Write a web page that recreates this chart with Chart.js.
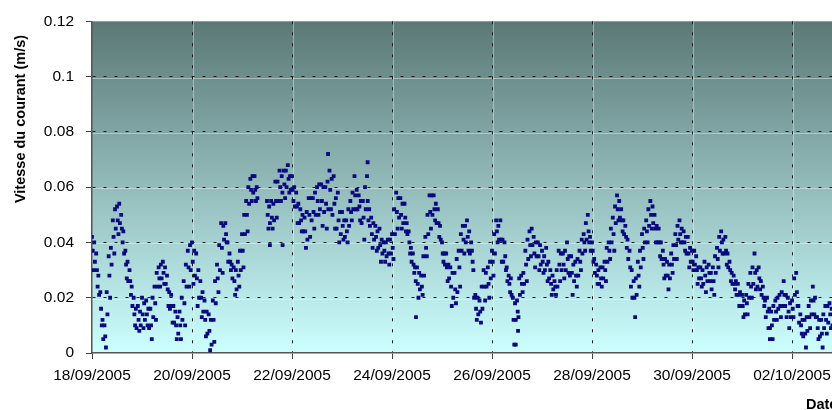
<!DOCTYPE html>
<html lang="fr">
<head>
<meta charset="utf-8">
<title>Vitesse du courant</title>
<script src="https://cdn.jsdelivr.net/npm/chart.js@4.4.1/dist/chart.umd.min.js"></script>
<style>
  html, body { margin: 0; padding: 0; background: #fff; overflow: hidden; }
  #cadre { width: 860px; height: 410px; }
</style>
</head>
<body>
<div id="cadre"><canvas id="graphe" width="860" height="410"></canvas></div>
<script>
// relevés : un pas = 2 h depuis le 18/09/2005 00:00
// A, B, C : lectures haute, moyenne, basse du nuage au début du pas
// D, E : lectures haute et basse une heure plus tard
const pasHeures = 2;
const decalages = { A: 0, B: 0.35, C: 0.7, D: 1.05, E: 1.4 };

const lectureA = [
  .042,.036,.022,.010,.035,.048,.053,.050,.037,.030,
  .020,.017,.020,.019,.016,.024,.031,.033,.028,.021,
  .015,.015,.026,.037,.040,.036,.026,.019,.014,.019,
  .032,.047,.047,.036,.031,.033,.043,.055,.063,.064,
  null,null,.055,.055,.062,.066,.066,.068,.064,.058,
  .052,.049,.056,.056,.060,.061,.060,.066,.064,.058,
  .051,.048,.055,.064,.057,.055,.064,.049,.046,.045,
  .040,.041,.043,.058,.056,.054,.044,.036,.031,.028,
  .042,.057,.057,.052,.040,.036,.031,.029,.037,.046,
  .048,.040,.021,.019,.030,.031,.037,.048,.048,.040,
  .028,.020,.019,.028,.037,.044,.042,.040,.037,.038,
  .030,.026,.037,.036,.040,.035,.033,.037,.043,.050,
  .040,.032,.031,.033,.040,.049,.057,.052,.046,.037,
  .026,.033,.043,.048,.055,.050,.045,.037,.033,.036,
  .043,.048,.044,.042,.037,.035,.031,.033,.032,.031,
  .038,.044,.042,.033,.028,.025,.021,.021,.029,.036,
  .031,.024,.020,.015,.019,.021,.026,.020,.019,.029,
  .014,.012,.017,.024,.013,.012,.017,.018
];
const lectureB = [
  .037,.030,.016,.006,.028,.042,.048,.045,.032,.026,
  .014,.012,.014,.014,.010,.018,.027,.029,.023,.017,
  .010,.010,.018,.031,.033,.027,.020,.012,.008,.012,
  .027,.038,.043,.033,.026,.028,.037,.050,.059,.059,
  null,null,.050,.049,.055,.060,.061,.063,.059,.053,
  .048,.044,.050,.051,.055,.055,.054,.059,.054,.048,
  .046,.044,.051,.057,.053,.049,.055,.043,.042,.039,
  .037,.036,.038,.051,.050,.049,.040,.032,.025,.024,
  .038,.051,.052,.047,.036,.031,.024,.023,.031,.041,
  .042,.037,.016,.015,.024,.025,.033,.044,.041,.035,
  .025,.012,.015,.025,.032,.039,.036,.035,.033,.032,
  .025,.024,.032,.032,.034,.029,.028,.033,.040,.044,
  .037,.028,.027,.030,.037,.043,.052,.048,.042,.031,
  .020,.028,.038,.044,.050,.045,.040,.032,.028,.032,
  .039,.043,.040,.036,.033,.030,.027,.028,.029,.026,
  .034,.040,.037,.030,.025,.021,.017,.018,.024,.029,
  .027,.020,.015,.010,.015,.017,.021,.015,.016,.022,
  .010,.007,.013,.019,.009,.007,.012,.014
];
const lectureC = [
  .030,.024,.010,.002,.020,.036,.043,.040,.027,.021,
  .010,.008,.009,.010,.005,.012,.024,.025,.017,.011,
  .005,.005,.010,.024,.025,.017,.013,.006,.001,.004,
  .022,.029,.040,.030,.021,.024,.031,.044,.055,.055,
  null,null,.045,.045,.049,.055,.056,.058,.055,.047,
  .044,.038,.042,.045,.050,.046,.045,.052,.045,.040,
  .041,.040,.048,.052,.048,.041,.048,.038,.037,.033,
  .033,.032,.034,.045,.045,.044,.036,.029,.020,.021,
  .035,.045,.048,.042,.033,.026,.017,.018,.024,.036,
  .037,.033,.012,.011,.019,.020,.028,.040,.033,.030,
  .022,.003,.013,.022,.026,.035,.031,.030,.029,.026,
  .021,.021,.026,.027,.029,.021,.024,.030,.037,.040,
  .033,.025,.024,.026,.034,.037,.048,.044,.038,.024,
  .013,.024,.034,.040,.045,.040,.035,.027,.023,.029,
  .034,.040,.037,.031,.030,.025,.024,.022,.026,.021,
  .031,.036,.032,.026,.023,.017,.013,.014,.020,.023,
  .023,.017,.009,.005,.012,.013,.017,.009,.013,.017,
  .007,.002,.009,.014,.005,.002,.007,.009
];
const lectureD = [
  .040,.028,.012,.022,.038,.052,.054,.044,.033,.024,
  .016,.015,.018,.016,.020,.029,.032,.031,.022,.017,
  .013,.020,.032,.039,.037,.030,.022,.015,.012,.026,
  .039,.046,.040,.032,.030,.037,.050,.060,.064,.060,
  null,null,.053,.054,.062,.064,.066,.064,.060,.054,
  .050,.051,.056,.058,.061,.060,.062,.063,.056,.051,
  .048,.052,.058,.059,.055,.060,.052,.047,.044,.041,
  .040,.041,.052,.056,.054,.047,.038,.031,.029,.035,
  .050,.057,.054,.046,.036,.032,.029,.034,.043,.046,
  .044,.030,.020,.024,.029,.033,.043,.046,.041,.031,
  .027,.018,.027,.029,.041,.045,.040,.039,.035,.033,
  .028,.030,.036,.037,.035,.032,.034,.041,.047,.042,
  .034,.030,.031,.038,.045,.053,.055,.048,.041,.030,
  .027,.037,.045,.052,.053,.046,.040,.034,.032,.039,
  .046,.045,.042,.038,.037,.031,.030,.031,.029,.035,
  .042,.041,.036,.029,.026,.022,.019,.025,.031,.030,
  .026,.019,.016,.017,.020,.022,.021,.018,.027,.017,
  .012,.013,.019,.020,.012,.014,.017,.016
];
const lectureE = [
  .033,.021,.005,.014,.032,.045,.047,.036,.026,.017,
  .009,.010,.012,.009,.013,.024,.027,.025,.016,.011,
  .007,.012,.024,.030,.028,.020,.015,.007,.003,.018,
  .030,.041,.033,.027,.023,.030,.043,.054,.058,.056,
  null,null,.047,.048,.055,.058,.060,.059,.053,.047,
  .044,.041,.048,.050,.052,.051,.052,.050,.045,.043,
  .042,.046,.052,.052,.047,.052,.046,.041,.038,.036,
  .035,.036,.043,.049,.047,.043,.033,.026,.023,.028,
  .043,.050,.047,.041,.032,.027,.020,.022,.037,.040,
  .036,.020,.014,.016,.024,.027,.036,.041,.033,.026,
  .021,.012,.021,.025,.034,.039,.035,.032,.030,.027,
  .023,.024,.030,.030,.028,.026,.028,.036,.041,.037,
  .029,.025,.027,.033,.040,.047,.049,.043,.034,.020,
  .021,.031,.040,.046,.047,.040,.034,.028,.027,.034,
  .041,.040,.036,.033,.032,.027,.025,.026,.023,.029,
  .037,.036,.031,.025,.021,.017,.014,.020,.025,.024,
  .021,.013,.009,.012,.016,.017,.013,.013,.021,.011,
  .006,.008,.014,.013,.006,.009,.011,.010
];

// points isolés (heure depuis le 18/09 00:00, vitesse)
const isolesHeure = [85.4, 91.5, 113.3, 132.3, 155.5, 203.4, 204.5, 325.4];
const isolesVitesse = [.039, .039, .072, .069, .013, .003, .008, .005];

const datesAxe = ['18/09/2005', '20/09/2005', '22/09/2005', '24/09/2005',
  '26/09/2005', '28/09/2005', '30/09/2005', '02/10/2005'];
const heuresParGraduation = 48;

function serie(valeurs, decalage) {
  const pts = [];
  valeurs.forEach((v, i) => {
    if (v !== null) pts.push({ x: i * pasHeures + decalage, y: v });
  });
  return pts;
}

const isoles = isolesHeure.map((h, i) => ({ x: h, y: isolesVitesse[i] }));

const bleu = '#0a0a80';
const styleMarque = {
  pointStyle: 'rect',
  pointRadius: 2.7,
  pointHoverRadius: 2.7,
  pointBorderWidth: 0,
  pointBackgroundColor: bleu,
  backgroundColor: bleu
};

// fond en dégradé + fines lignes claires qui doublent le quadrillage
const fondDegrade = {
  id: 'fondDegrade',
  beforeDraw(chart) {
    const { ctx, chartArea: a, scales } = chart;
    const g = ctx.createLinearGradient(0, a.top, 0, a.bottom);
    g.addColorStop(0, '#5a7876');
    g.addColorStop(1, '#ccffff');
    ctx.save();
    ctx.fillStyle = g;
    ctx.fillRect(a.left, a.top, a.right - a.left, a.bottom - a.top);

    ctx.strokeStyle = 'rgba(255,255,255,0.4)';
    ctx.lineWidth = 1;
    ctx.beginPath();
    scales.y.ticks.forEach(t => {
      if (t.value <= 0 || t.value > 0.119) return;
      const y = Math.round(scales.y.getPixelForValue(t.value)) + 1.5;
      ctx.moveTo(a.left, y);
      ctx.lineTo(a.right, y);
    });
    scales.x.ticks.forEach(t => {
      if (t.value <= 0) return;
      const x = Math.round(scales.x.getPixelForValue(t.value)) + 1.5;
      ctx.moveTo(x, a.top);
      ctx.lineTo(x, a.bottom);
    });
    ctx.stroke();
    ctx.restore();
  }
};

// titres des axes, placés comme sur l'original
const titresAxes = {
  id: 'titresAxes',
  afterDraw(chart) {
    const ctx = chart.ctx;
    ctx.save();
    ctx.fillStyle = '#000';
    ctx.font = 'bold 14.5px "Liberation Sans", Arial, sans-serif';
    ctx.textAlign = 'center';
    ctx.textBaseline = 'middle';
    ctx.translate(21, 119);
    ctx.rotate(-Math.PI / 2);
    ctx.fillText('Vitesse du courant (m/s)', 0, 0);
    ctx.restore();

    ctx.save();
    ctx.fillStyle = '#000';
    ctx.font = 'bold 14.5px "Liberation Sans", Arial, sans-serif';
    ctx.textAlign = 'left';
    ctx.textBaseline = 'alphabetic';
    ctx.fillText('Date', 806, 409);
    ctx.restore();
  }
};

const policeTicks = { family: '"Liberation Sans", Arial, sans-serif', size: 15.5 };

new Chart(document.getElementById('graphe'), {
  type: 'scatter',
  data: {
    datasets: [
      { data: serie(lectureA, decalages.A), ...styleMarque },
      { data: serie(lectureB, decalages.B), ...styleMarque },
      { data: serie(lectureC, decalages.C), ...styleMarque },
      { data: serie(lectureD, decalages.D), ...styleMarque },
      { data: serie(lectureE, decalages.E), ...styleMarque },
      { data: isoles, ...styleMarque }
    ]
  },
  options: {
    responsive: false,
    animation: false,
    events: [],
    layout: { padding: { left: 0, top: 20.5, right: 18, bottom: 0 } },
    plugins: { legend: { display: false }, tooltip: { enabled: false } },
    scales: {
      x: {
        type: 'linear',
        min: 0,
        max: 360,
        afterBuildTicks: s => { s.ticks = s.ticks.filter(t => t.value % heuresParGraduation === 0); },
        afterFit: s => { s.height = 57; },
        ticks: {
          stepSize: heuresParGraduation,
          maxRotation: 0,
          autoSkip: false,
          padding: 7,
          color: '#000',
          font: policeTicks,
          callback: v => datesAxe[Math.round(v / heuresParGraduation)] || ''
        },
        grid: {
          color: c => (c.tick && c.tick.value === 0) ? 'rgba(0,0,0,0)' : '#1a1a1a',
          lineWidth: 1,
          tickLength: 6,
          tickColor: '#444'
        },
        border: { display: true, color: '#555', width: 1.5, dash: [3, 8] }
      },
      y: {
        min: 0,
        max: 0.12,
        afterFit: s => { s.width = 92; },
        ticks: {
          stepSize: 0.02,
          padding: 12,
          color: '#000',
          font: policeTicks,
          callback: v => String(Math.round(v * 100) / 100)
        },
        grid: {
          color: c => (c.tick && (c.tick.value === 0 || c.tick.value > 0.119)) ? 'rgba(0,0,0,0)' : '#1a1a1a',
          lineWidth: 1,
          tickLength: 6,
          tickColor: '#444'
        },
        border: { display: true, color: '#555', width: 1.5, dash: [3, 8] }
      }
    }
  },
  plugins: [fondDegrade, titresAxes]
});
</script>
</body>
</html>
